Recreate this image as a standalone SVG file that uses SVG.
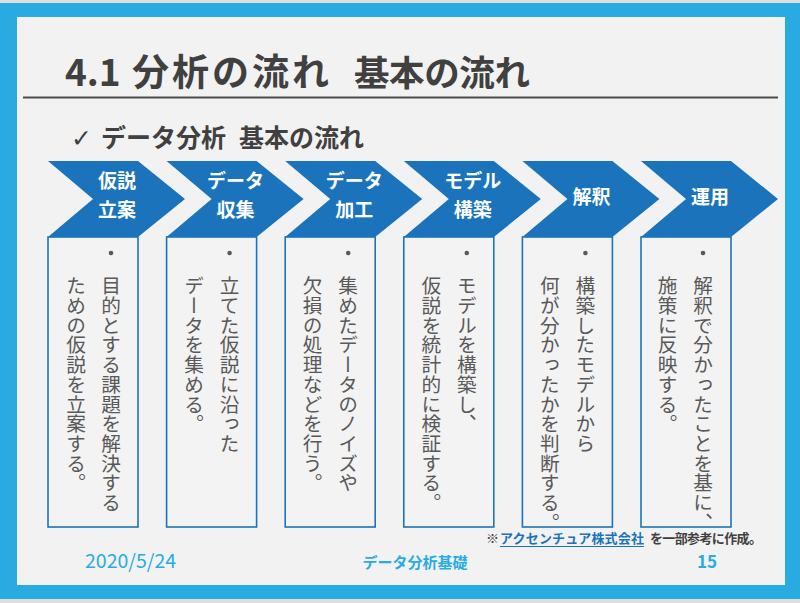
<svg xmlns="http://www.w3.org/2000/svg" width="800" height="603" viewBox="0 0 800 603">
<defs>
<style>
.chev{fill:#1b74bb}
.box{fill:#f3f3f3;stroke:#1b74bb;stroke-width:1.6}
.ct{font-family:"Noto Sans CJK JP","Noto Sans",sans-serif;font-weight:bold;font-size:19px;fill:#ffffff;text-anchor:middle}
.vt{font-family:"Noto Sans CJK JP","Noto Sans",sans-serif;font-size:19.7px;fill:#595959;writing-mode:vertical-rl}
.dot{fill:#595959}
.ttl{font-family:"Noto Sans CJK JP","Noto Sans",sans-serif;font-weight:bold;fill:#404040}
.ft{font-family:"Noto Sans CJK JP","Noto Sans",sans-serif;fill:#29abe2}
.fn{font-family:"Noto Sans CJK JP","Noto Sans",sans-serif;font-size:13px;font-weight:bold}
</style>
</defs>
<rect x="0" y="0" width="800" height="603" fill="#dedede"/>
<rect x="0" y="3" width="800" height="596" fill="#29abe2"/>
<rect x="17" y="17" width="768" height="568" fill="#f2f2f2"/>

<g id="title">
<text class="ttl" x="65" y="86" font-size="37">4.1</text>
<text class="ttl" x="132" y="86" font-size="37" textLength="197" lengthAdjust="spacing">分析の流れ</text>
<text class="ttl" x="354" y="86" font-size="35.5" textLength="176" lengthAdjust="spacing">基本の流れ</text>
<line x1="23" y1="97.5" x2="778" y2="97.5" stroke="#4a4a4a" stroke-width="2"/>
</g>
<g id="subtitle">
<text class="ttl" x="71" y="147" font-size="25"><tspan font-family="DejaVu Sans">✓</tspan></text>
<text class="ttl" x="101" y="147" font-size="25">データ分析</text>
<text class="ttl" x="239" y="147" font-size="25">基本の流れ</text>
</g>

<g id="connectors"></g>

<g id="step1">
<rect class="box" x="48" y="237" width="90" height="290"/>
<path class="chev" d="M48,161 H138 L185,199 L138,237 H48 L93,199 Z"/>
<text class="ct" x="117" y="188">仮説</text>
<text class="ct" x="117" y="217">立案</text>
<circle class="dot" cx="111" cy="253" r="2.3"/>
<text class="vt" x="111" y="276">目的とする課題を解決する</text>
<text class="vt" x="76" y="276">ための仮説を立案する。</text>
</g>
<g id="step2">
<rect class="box" x="166.6" y="237" width="90" height="290"/>
<path class="chev" d="M166.6,161 H256.6 L303.6,199 L256.6,237 H166.6 L211.6,199 Z"/>
<text class="ct" x="235.6" y="188">データ</text>
<text class="ct" x="235.6" y="217">収集</text>
<circle class="dot" cx="229.6" cy="253" r="2.3"/>
<text class="vt" x="229.6" y="276">立てた仮説に沿った</text>
<text class="vt" x="194.1" y="276">データを集める。</text>
</g>
<g id="step3">
<rect class="box" x="285.2" y="237" width="90" height="290"/>
<path class="chev" d="M285.2,161 H375.2 L422.2,199 L375.2,237 H285.2 L330.2,199 Z"/>
<text class="ct" x="354.2" y="188">データ</text>
<text class="ct" x="354.2" y="217">加工</text>
<circle class="dot" cx="348.2" cy="253" r="2.3"/>
<text class="vt" x="348.2" y="276">集めたデータのノイズや</text>
<text class="vt" x="312.7" y="276">欠損の処理などを行う。</text>
</g>
<g id="step4">
<rect class="box" x="403.8" y="237" width="90" height="290"/>
<path class="chev" d="M403.8,161 H493.8 L540.8,199 L493.8,237 H403.8 L448.8,199 Z"/>
<text class="ct" x="472.8" y="188">モデル</text>
<text class="ct" x="472.8" y="217">構築</text>
<circle class="dot" cx="466.8" cy="253" r="2.3"/>
<text class="vt" x="466.8" y="276">モデルを構築し、</text>
<text class="vt" x="431.3" y="276">仮説を統計的に検証する。</text>
</g>
<g id="step5">
<rect class="box" x="522.4" y="237" width="90" height="290"/>
<path class="chev" d="M522.4,161 H612.4 L659.4,199 L612.4,237 H522.4 L567.4,199 Z"/>
<text class="ct" x="591.4" y="204">解釈</text>
<circle class="dot" cx="585.4" cy="253" r="2.3"/>
<text class="vt" x="585.4" y="276">構築したモデルから</text>
<text class="vt" x="549.9" y="276">何が分かったかを判断する。</text>
</g>
<g id="step6">
<rect class="box" x="641" y="237" width="90" height="290"/>
<path class="chev" d="M641,161 H731 L778,199 L731,237 H641 L686,199 Z"/>
<text class="ct" x="710" y="204">運用</text>
<circle class="dot" cx="703" cy="253" r="2.3"/>
<text class="vt" x="703" y="276">解釈で分かったことを基に、</text>
<text class="vt" x="667.5" y="276">施策に反映する。</text>
</g>

<g id="footer">
<text class="fn" x="486" y="543" fill="#404040">※</text>
<text class="fn" x="500" y="543" fill="#1b74bb" textLength="144" lengthAdjust="spacing">アクセンチュア株式会社</text>
<line x1="500" y1="546.5" x2="644" y2="546.5" stroke="#1b74bb" stroke-width="1"/>
<text class="fn" x="650" y="543" fill="#404040" textLength="112" lengthAdjust="spacing">を一部参考に作成。</text>
<text class="ft" x="85" y="568" font-size="19.5" font-family="'Noto Sans',sans-serif">2020/5/24</text>
<text class="ft" x="415" y="568" font-size="15" font-weight="bold" text-anchor="middle">データ分析基礎</text>
<text class="ft" x="707" y="568" font-size="17" font-weight="bold" text-anchor="middle">15</text>
</g>
</svg>
